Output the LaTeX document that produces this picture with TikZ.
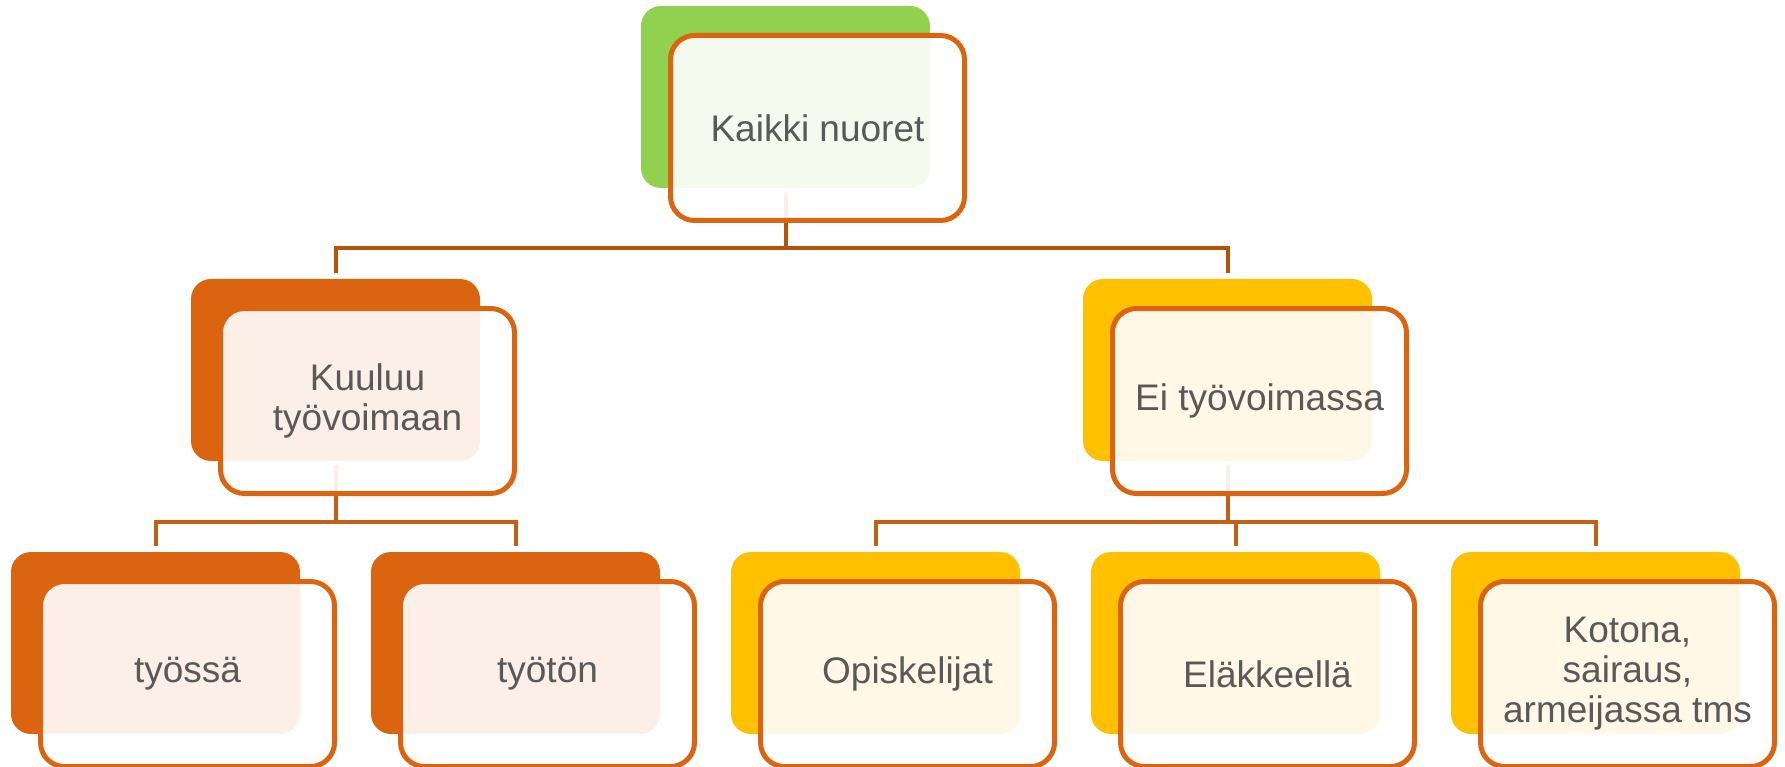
\documentclass[tikz,border=0pt]{standalone}
\usepackage{fontspec}
\setmainfont{Liberation Sans}
\definecolor{cgreen}{HTML}{92D050}
\definecolor{corange}{HTML}{DA6410}
\definecolor{cyellow}{HTML}{FFC000}
\definecolor{frame}{HTML}{DA6410}
\definecolor{txt}{HTML}{595959}
\definecolor{lineA}{HTML}{B65309}
\definecolor{lineB}{HTML}{C65F16}
\begin{document}
\begin{tikzpicture}[x=1pt,y=-1pt,
  bg/.style={rectangle, rounded corners=20pt, minimum width=289pt, minimum height=182pt,
    inner sep=0pt, outer sep=0pt, anchor=north west, draw=none},
  fr/.style={rectangle, rounded corners=24pt, draw=frame, line width=5pt, fill=white,
    fill opacity=0.9, text opacity=1, minimum width=294pt, minimum height=185pt,
    inner sep=0pt, outer sep=0pt, anchor=north west, align=center,
    font=\fontsize{37}{40}\selectfont, text=txt},
  connA/.style={draw=lineA, line width=4pt},
  connB/.style={draw=lineB, line width=4pt}]
\useasboundingbox (0,0) rectangle (1785,767);

% background (filled) boxes
\node[bg, fill=cgreen]  (top-bg) at (641,6) {};
\node[bg, fill=corange] (l-bg)   at (191,279) {};
\node[bg, fill=cyellow] (r-bg)   at (1083,279) {};
\node[bg, fill=corange] (c1-bg)  at (11,552) {};
\node[bg, fill=corange] (c2-bg)  at (371,552) {};
\node[bg, fill=cyellow] (c3-bg)  at (731,552) {};
\node[bg, fill=cyellow] (c4-bg)  at (1091,552) {};
\node[bg, fill=cyellow] (c5-bg)  at (1451,552) {};

% junction coordinates
\coordinate (j1) at (785,248);
\coordinate (j2) at (335,522);
\coordinate (j3) at (1227,522);

% connectors
\draw[connA] ([yshift=-5pt]top-bg.south) -- (top-bg.south |- j1);
\draw[connA] ([yshift=6pt]l-bg.north) -- (l-bg.north |- j1) -- (r-bg.north |- j1) -- ([yshift=6pt]r-bg.north);

\draw[connB] ([yshift=-5pt]l-bg.south) -- (l-bg.south |- j2);
\draw[connB] ([yshift=6pt]c1-bg.north) -- (c1-bg.north |- j2) -- (c2-bg.north |- j2) -- ([yshift=6pt]c2-bg.north);

\draw[connB] ([yshift=-5pt]r-bg.south) -- (r-bg.south |- j3);
\draw[connB] ([yshift=6pt]c3-bg.north) -- (c3-bg.north |- j3) -- (c5-bg.north |- j3) -- ([yshift=6pt]c5-bg.north);
\draw[connB] (c4-bg.north |- j3) -- ([yshift=6pt]c4-bg.north);

% framed text boxes
\node[fr] (top) at ([xshift=29.5pt,yshift=-29.5pt]top-bg.north west) {Kaikki nuoret};
\node[fr] (l)   at ([xshift=29.5pt,yshift=-29.5pt]l-bg.north west) {Kuuluu\\työvoimaan};
\node[fr] (r)   at ([xshift=29.5pt,yshift=-29.5pt]r-bg.north west) {Ei työvoimassa};
\node[fr] (c1)  at ([xshift=29.5pt,yshift=-29.5pt]c1-bg.north west) {työssä};
\node[fr] (c2)  at ([xshift=29.5pt,yshift=-29.5pt]c2-bg.north west) {työtön};
\node[fr] (c3)  at ([xshift=29.5pt,yshift=-29.5pt]c3-bg.north west) {Opiskelijat};
\node[fr] (c4)  at ([xshift=29.5pt,yshift=-29.5pt]c4-bg.north west) {Eläkkeellä};
\node[fr] (c5)  at ([xshift=29.5pt,yshift=-29.5pt]c5-bg.north west) {Kotona,\\sairaus,\\armeijassa tms};
\end{tikzpicture}
\end{document}
